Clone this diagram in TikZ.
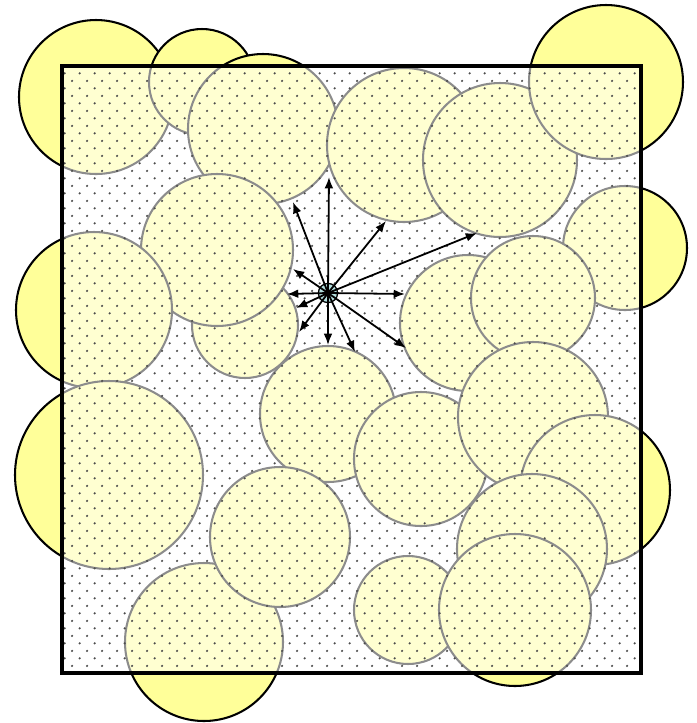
\documentclass[tikz,border=0pt]{standalone}
\usetikzlibrary{arrows.meta,patterns.meta}
\definecolor{grainyellow}{RGB}{255,255,153}
\definecolor{hubcyan}{RGB}{178,222,222}

\tikzdeclarepattern{
  name=sparsedots,
  type=uncolored,
  bounding box={(0pt,0pt) and (6pt,6pt)},
  tile size={(6pt,6pt)},
  code={
    \fill (1.5pt,1.5pt) circle (0.5pt);
    \fill (4.5pt,4.5pt) circle (0.5pt);
  }
}

\begin{document}
\begin{tikzpicture}[
    x=0.39pt,y=-0.39pt,
    grain/.style={fill=grainyellow,draw=black,line width=0.8pt},
    cell/.style={draw=black,line width=1.4pt},
    hub/.style={circle,draw,fill=hubcyan,minimum size=7.5pt,inner sep=0pt,line width=0.5pt},
    >={Latex[length=4.4pt,width=3.4pt]},
    flux/.style={->,line width=0.7pt}
  ]
    \useasboundingbox (0,0) rectangle (696,723);
    % grains
    \foreach \cx/\cy/\r in {96/97/77, 202/82/53, 263/129/75, 404/145/77,
        500/160/77, 606/82/77, 625/248/62, 245/325/53, 217/250/76,
        94/310/78, 109/475/94, 468/323/68, 533/298/62, 328/414/68,
        421/459/67, 533/417/75, 595/490/75, 532/549/75, 204/642/79,
        280/537/70, 408/610/54, 515/610/76}
      \draw[grain] (\cx,\cy) circle[radius=\r];
    % cell with dotted fluid
    \fill[white,opacity=0.55] (62,66) rectangle (641,673);
    \fill[pattern=sparsedots,pattern color=black!70] (62,66) rectangle (641,673);
    \draw[cell] (62,66) rectangle (641,673);
    % source and flux directions
    \node[hub] (src) at (328,293) {};
    \foreach \x/\y [count=\i] in {329/177, 293/202, 386/221, 477/233,
        293/269, 287/294, 405/294, 296/308, 299/332, 328/345, 355/352, 406/348}
      \coordinate (d\i) at (\x,\y);
    \foreach \i in {1,...,12}
      \draw[flux] (src.center) -- (d\i);
\end{tikzpicture}
\end{document}
